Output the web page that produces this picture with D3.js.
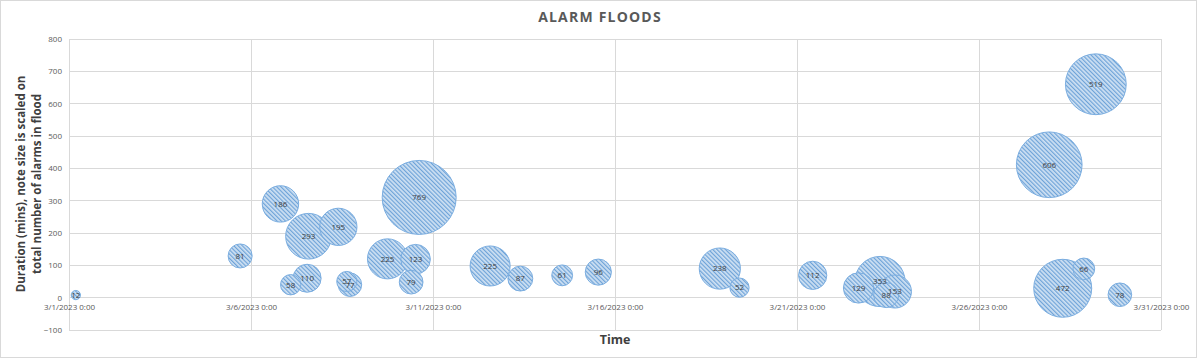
<!DOCTYPE html>
<html><head><meta charset="utf-8">
<script src="https://cdn.jsdelivr.net/npm/d3@7"></script>
<style>body{margin:0;background:#fff}svg{display:block}</style>
</head><body>
<script>
const dates = ["2023-03-01T04:30","2023-03-05T16:50","2023-03-06T19:25","2023-03-07T02:10","2023-03-07T13:55","2023-03-07T13:00","2023-03-08T09:35","2023-03-08T15:10","2023-03-08T17:15","2023-03-09T18:00","2023-03-10T12:30","2023-03-10T09:35","2023-03-10T14:53","2023-03-12T13:40","2023-03-13T09:35","2023-03-14T13:10","2023-03-15T13:00","2023-03-18T21:07","2023-03-19T10:05","2023-03-21T10:20","2023-03-22T16:35","2023-03-23T06:43","2023-03-23T10:48","2023-03-23T16:35","2023-03-27T22:19","2023-03-29T05:02","2023-03-28T07:12","2023-03-28T21:07","2023-03-29T20:53"];
const durations = [8,129,290,40,190,60,219,50,40,120,119,48,310,98,59,69,79,90,31,69,30,50,8,19,411,660,29,89,9];
const alarmCounts = [12,81,186,58,293,110,195,57,77,225,123,79,769,225,87,61,96,238,52,112,129,353,88,153,606,519,472,66,78];
const xTickLabels = ["3/1/2023 0:00","3/6/2023 0:00","3/11/2023 0:00","3/16/2023 0:00","3/21/2023 0:00","3/26/2023 0:00","3/31/2023 0:00"];
const yTicks = [-100,0,100,200,300,400,500,600,700,800];

const W=1198,H=359;
const parse = s => new Date(s+":00Z");
const data = dates.map((d,i)=>({t:parse(d),v:durations[i],n:alarmCounts[i]}));
const tickDates = xTickLabels.map(s=>{const [m,d,y]=s.split(" ")[0].split("/");return new Date(Date.UTC(+y,+m-1,+d));});

const svg=d3.select("body").append("svg").attr("width",W).attr("height",H);
const font="'Open Sans', 'Liberation Sans', sans-serif";
svg.append("rect").attr("x",0.5).attr("y",0.5).attr("width",W-2).attr("height",H-2).attr("fill","#fff").attr("stroke","#d9d9d9");

const defs=svg.append("defs");
const pat=defs.append("pattern").attr("id","hatch").attr("patternUnits","userSpaceOnUse")
  .attr("width",3).attr("height",3).attr("patternTransform","rotate(-45)");
pat.append("rect").attr("width",3).attr("height",3).attr("fill","#cfe1f3");
pat.append("rect").attr("width",1.2).attr("height",3).attr("fill","#6ea3d8");

const x=d3.scaleUtc().domain([tickDates[0],tickDates[tickDates.length-1]]).range([69,1161]);
const y=d3.scaleLinear().domain([-100,800]).range([330,39]);
const r=d3.scaleSqrt().domain([0,d3.max(alarmCounts)]).range([0,37]);

const g=svg.append("g");
g.selectAll(".hg").data(yTicks).join("line")
  .attr("x1",x.range()[0]).attr("x2",x.range()[1]).attr("y1",d=>y(d)).attr("y2",d=>y(d))
  .attr("stroke","#d9d9d9").attr("stroke-width",1).attr("shape-rendering","crispEdges");
g.selectAll(".vg").data(tickDates).join("line")
  .attr("x1",d=>x(d)).attr("x2",d=>x(d)).attr("y1",y(800)).attr("y2",y(-100))
  .attr("stroke","#d9d9d9").attr("stroke-width",1).attr("shape-rendering","crispEdges");

const yAxis=d3.axisLeft(y).tickValues(yTicks).tickSize(0).tickPadding(7);
const ya=svg.append("g").attr("transform",`translate(${x.range()[0]},0)`).call(yAxis);
ya.select(".domain").remove();
ya.selectAll("text").attr("font-family",font).attr("font-size",8).attr("fill","#595959");

const xAxis=d3.axisBottom(x).tickValues(tickDates).tickSize(0).tickPadding(7).tickFormat((d,i)=>xTickLabels[i]);
const xa=svg.append("g").attr("transform",`translate(0,${y(0)})`).call(xAxis);
xa.select(".domain").remove();
xa.selectAll("text").attr("font-family",font).attr("font-size",8).attr("fill","#595959");

const sorted=data.slice().sort((a,b)=>b.n-a.n);
const bg=svg.append("g");
bg.selectAll("circle").data(sorted).join("circle")
  .attr("cx",d=>x(d.t)).attr("cy",d=>y(d.v)).attr("r",d=>r(d.n))
  .attr("fill","url(#hatch)").attr("stroke","#7aade0").attr("stroke-width",1);
bg.selectAll("text").data(sorted).join("text")
  .attr("x",d=>x(d.t)).attr("y",d=>y(d.v)).attr("dy","0.35em")
  .attr("text-anchor","middle").attr("font-family",font).attr("font-size",8)
  .attr("fill","#404040").text(d=>d.n);

svg.append("text").attr("x",600).attr("y",22).attr("text-anchor","middle")
  .attr("font-family",font).attr("font-weight","bold").attr("font-size",14)
  .attr("letter-spacing","1.2px").attr("fill","#595959").text("ALARM FLOODS");
svg.append("text").attr("x",615).attr("y",344).attr("text-anchor","middle")
  .attr("font-family",font).attr("font-weight","bold").attr("font-size",12.5)
  .attr("fill","#404040").text("Time");
const yt=svg.append("text").attr("transform","translate(0,184) rotate(-90)")
  .attr("text-anchor","middle").attr("font-family",font).attr("font-weight","bold")
  .attr("font-size",11.5).attr("fill","#404040");
yt.append("tspan").attr("x",0).attr("y",25).text("Duration (mins), note size is scaled on");
yt.append("tspan").attr("x",0).attr("y",41).text("total number of alarms in flood");
</script>
</body></html>
